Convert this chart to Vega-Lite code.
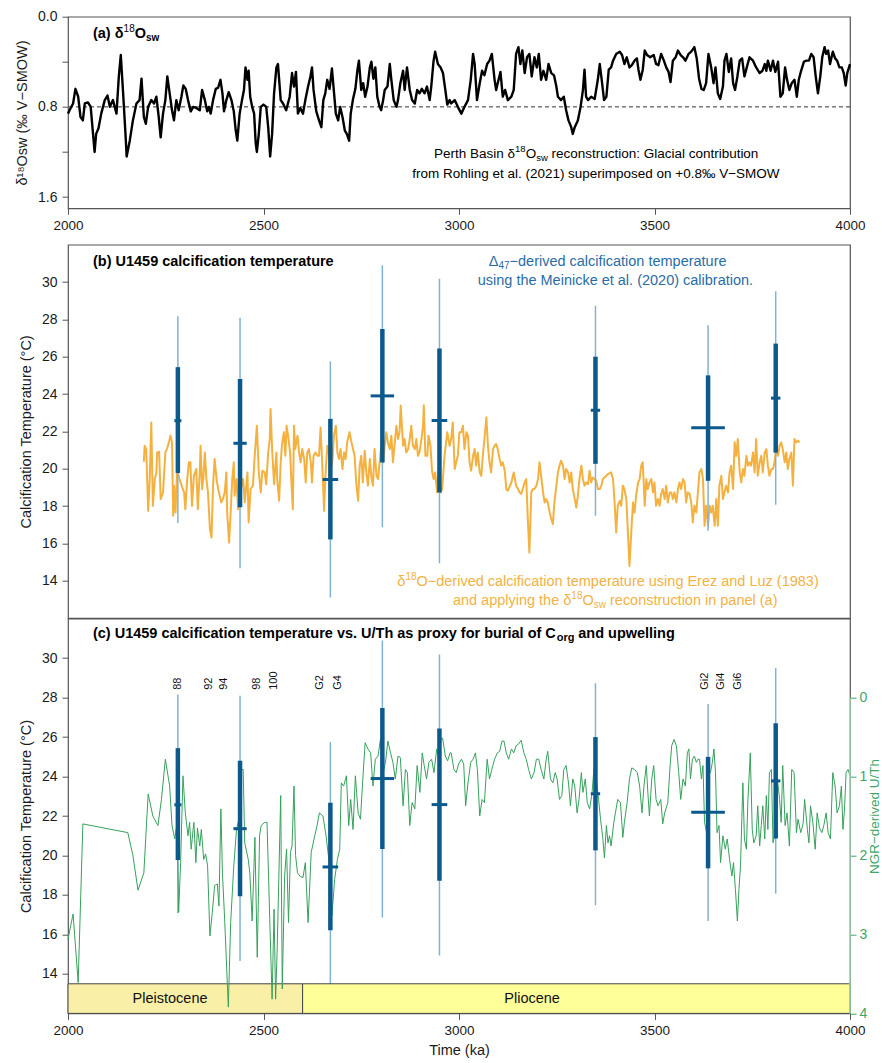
{
"$schema": "https://vega.github.io/schema/vega-lite/v6.json",
"padding": {"left": 13, "top": 8.7, "right": 2, "bottom": 2},
"background": "white",
"config": {
  "font": "Liberation Sans",
  "view": {"stroke": "#555555", "strokeWidth": 1.2},
  "axis": {"grid": false, "domain": false, "tickColor": "#555555", "tickSize": 6, "tickWidth": 1, "labelColor": "#1a1a1a", "labelFont": "Liberation Sans", "labelFontSize": 14, "labelPadding": 5, "labelFlush": false, "labelOverlap": false, "titleFont": "Liberation Sans", "titleFontSize": 14.5, "titleFontWeight": "normal", "titleColor": "#1a1a1a", "titlePadding": 8},
  "axisX": {"labelFontSize": 13.5, "labelPadding": 4, "titlePadding": 7},
  "text": {"font": "Liberation Sans"}
},
"spacing": 0,
"bounds": "flush",
"vconcat": [
{
  "width": 782, "height": 191.6,
  "layer": [
    {"data": {"values": [{}]}, "mark": {"type": "rule", "color": "#333333", "strokeDash": [4, 3], "strokeWidth": 1},
     "encoding": {"y": {"datum": 0.8, "type": "quantitative", "scale": {"domain": [0, 1.7], "reverse": true, "nice": false, "zero": false}}}},
    {"data": {"name": "osw"}, "mark": {"type": "line", "color": "#000000", "strokeWidth": 2.4, "strokeJoin": "round"},
     "encoding": {
       "x": {"field": "age", "type": "quantitative", "scale": {"domain": [2000, 4000], "nice": false, "zero": false}, "axis": {"values": [2000, 2500, 3000, 3500, 4000], "format": "d", "title": null}},
       "y": {"field": "v", "type": "quantitative", "scale": {"domain": [0, 1.7], "reverse": true, "nice": false, "zero": false}, "axis": {"values": [0, 0.4, 0.8, 1.2, 1.6], "labelExpr": "(datum.value == 0.4 || datum.value == 1.2) ? '' : format(datum.value, '.1f')", "title": "δ¹⁸Osw (‰ V−SMOW)"}}}},
    {"data": {"values": [{}]}, "mark": {"type": "text", "text": "(a) δ", "align": "left", "baseline": "middle", "fontSize": 14.5, "fontWeight": "bold", "color": "#000000"},
     "encoding": {"x": {"datum": 2063.9, "type": "quantitative", "scale": {"domain": [2000, 4000], "nice": false, "zero": false}}, "y": {"datum": 0.156, "type": "quantitative", "scale": {"domain": [0, 1.7], "reverse": true, "nice": false, "zero": false}}}},
    {"data": {"values": [{}]}, "mark": {"type": "text", "text": "18", "align": "left", "baseline": "middle", "fontSize": 10, "dy": -5, "color": "#000000"},
     "encoding": {"x": {"datum": 2142.2, "type": "quantitative", "scale": {"domain": [2000, 4000], "nice": false, "zero": false}}, "y": {"datum": 0.156, "type": "quantitative", "scale": {"domain": [0, 1.7], "reverse": true, "nice": false, "zero": false}}}},
    {"data": {"values": [{}]}, "mark": {"type": "text", "text": "O", "align": "left", "baseline": "middle", "fontSize": 14.5, "fontWeight": "bold", "color": "#000000"},
     "encoding": {"x": {"datum": 2170.6, "type": "quantitative", "scale": {"domain": [2000, 4000], "nice": false, "zero": false}}, "y": {"datum": 0.156, "type": "quantitative", "scale": {"domain": [0, 1.7], "reverse": true, "nice": false, "zero": false}}}},
    {"data": {"values": [{}]}, "mark": {"type": "text", "text": "sw", "align": "left", "baseline": "middle", "fontSize": 10, "fontWeight": "bold", "dy": 4, "color": "#000000"},
     "encoding": {"x": {"datum": 2199.5, "type": "quantitative", "scale": {"domain": [2000, 4000], "nice": false, "zero": false}}, "y": {"datum": 0.156, "type": "quantitative", "scale": {"domain": [0, 1.7], "reverse": true, "nice": false, "zero": false}}}},
    {"data": {"values": [{}]}, "mark": {"type": "text", "text": "Perth Basin δ", "align": "left", "baseline": "middle", "fontSize": 13.5, "color": "#000000"},
     "encoding": {"x": {"datum": 2936.2, "type": "quantitative", "scale": {"domain": [2000, 4000], "nice": false, "zero": false}}, "y": {"datum": 1.216, "type": "quantitative", "scale": {"domain": [0, 1.7], "reverse": true, "nice": false, "zero": false}}}},
    {"data": {"values": [{}]}, "mark": {"type": "text", "text": "18", "align": "left", "baseline": "middle", "fontSize": 9.5, "dy": -5, "color": "#000000"},
     "encoding": {"x": {"datum": 3143.3, "type": "quantitative", "scale": {"domain": [2000, 4000], "nice": false, "zero": false}}, "y": {"datum": 1.216, "type": "quantitative", "scale": {"domain": [0, 1.7], "reverse": true, "nice": false, "zero": false}}}},
    {"data": {"values": [{}]}, "mark": {"type": "text", "text": "O", "align": "left", "baseline": "middle", "fontSize": 13.5, "color": "#000000"},
     "encoding": {"x": {"datum": 3170.4, "type": "quantitative", "scale": {"domain": [2000, 4000], "nice": false, "zero": false}}, "y": {"datum": 1.216, "type": "quantitative", "scale": {"domain": [0, 1.7], "reverse": true, "nice": false, "zero": false}}}},
    {"data": {"values": [{}]}, "mark": {"type": "text", "text": "sw", "align": "left", "baseline": "middle", "fontSize": 9.5, "dy": 4, "color": "#000000"},
     "encoding": {"x": {"datum": 3197.3, "type": "quantitative", "scale": {"domain": [2000, 4000], "nice": false, "zero": false}}, "y": {"datum": 1.216, "type": "quantitative", "scale": {"domain": [0, 1.7], "reverse": true, "nice": false, "zero": false}}}},
    {"data": {"values": [{}]}, "mark": {"type": "text", "text": "reconstruction: Glacial contribution", "align": "left", "baseline": "middle", "fontSize": 13.5, "color": "#000000"},
     "encoding": {"x": {"datum": 3236.6, "type": "quantitative", "scale": {"domain": [2000, 4000], "nice": false, "zero": false}}, "y": {"datum": 1.216, "type": "quantitative", "scale": {"domain": [0, 1.7], "reverse": true, "nice": false, "zero": false}}}},
    {"data": {"values": [{}]}, "mark": {"type": "text", "text": "from Rohling et al. (2021) superimposed on +0.8‰ V−SMOW", "align": "center", "baseline": "middle", "fontSize": 13.5, "color": "#000000"},
     "encoding": {"x": {"datum": 3350, "type": "quantitative", "scale": {"domain": [2000, 4000], "nice": false, "zero": false}}, "y": {"datum": 1.394, "type": "quantitative", "scale": {"domain": [0, 1.7], "reverse": true, "nice": false, "zero": false}}}}
  ]
},
{
  "width": 782, "height": 35.4, "view": {"stroke": null},
  "data": {"values": []}, "mark": "point"
},
{
  "width": 782, "height": 373.3,
  "layer": [
    {"data": {"name": "t18"}, "mark": {"type": "line", "color": "#f4b13f", "strokeWidth": 2, "strokeJoin": "round"},
     "encoding": {
       "x": {"field": "age", "type": "quantitative", "scale": {"domain": [2000, 4000], "nice": false, "zero": false}, "axis": null},
       "y": {"field": "t", "type": "quantitative", "scale": {"domain": [12, 32], "nice": false, "zero": false}, "axis": {"values": [14, 16, 18, 20, 22, 24, 26, 28, 30], "title": "Calcification Temperature (°C)"}}}},
    {"data": {"name": "d47"}, "mark": {"type": "rule", "color": "#80b2d6", "strokeWidth": 1.5},
     "encoding": {"x": {"field": "age", "type": "quantitative", "scale": {"domain": [2000, 4000], "nice": false, "zero": false}, "axis": null},
       "y": {"field": "lo95", "type": "quantitative", "scale": {"domain": [12, 32], "nice": false, "zero": false}}, "y2": {"field": "hi95"}}},
    {"data": {"name": "d47"}, "mark": {"type": "rule", "color": "#0c5a8c", "strokeWidth": 4.5},
     "encoding": {"x": {"field": "age", "type": "quantitative", "scale": {"domain": [2000, 4000], "nice": false, "zero": false}, "axis": null},
       "y": {"field": "lo68", "type": "quantitative", "scale": {"domain": [12, 32], "nice": false, "zero": false}}, "y2": {"field": "hi68"}}},
    {"data": {"name": "d47"}, "mark": {"type": "rule", "color": "#0c5a8c", "strokeWidth": 3},
     "encoding": {"x": {"field": "agelo", "type": "quantitative", "scale": {"domain": [2000, 4000], "nice": false, "zero": false}, "axis": null}, "x2": {"field": "agehi"},
       "y": {"field": "t", "type": "quantitative", "scale": {"domain": [12, 32], "nice": false, "zero": false}}}},
    {"data": {"values": [{}]}, "mark": {"type": "text", "text": "(b) U1459 calcification temperature", "align": "left", "baseline": "middle", "fontSize": 14.5, "fontWeight": "bold", "color": "#000000"},
     "encoding": {"x": {"datum": 2063.9, "type": "quantitative", "scale": {"domain": [2000, 4000], "nice": false, "zero": false}, "axis": null}, "y": {"datum": 31.06, "type": "quantitative", "scale": {"domain": [12, 32], "nice": false, "zero": false}}}},
    {"data": {"values": [{}]}, "mark": {"type": "text", "text": "Δ", "align": "left", "baseline": "middle", "fontSize": 14.5, "color": "#2a6da6"},
     "encoding": {"x": {"datum": 3076.1, "type": "quantitative", "scale": {"domain": [2000, 4000], "nice": false, "zero": false}, "axis": null}, "y": {"datum": 31.06, "type": "quantitative", "scale": {"domain": [12, 32], "nice": false, "zero": false}}}},
    {"data": {"values": [{}]}, "mark": {"type": "text", "text": "47", "align": "left", "baseline": "middle", "fontSize": 10, "dy": 4, "color": "#2a6da6"},
     "encoding": {"x": {"datum": 3100.9, "type": "quantitative", "scale": {"domain": [2000, 4000], "nice": false, "zero": false}, "axis": null}, "y": {"datum": 31.06, "type": "quantitative", "scale": {"domain": [12, 32], "nice": false, "zero": false}}}},
    {"data": {"values": [{}]}, "mark": {"type": "text", "text": "−derived calcification temperature", "align": "left", "baseline": "middle", "fontSize": 14.5, "color": "#2a6da6"},
     "encoding": {"x": {"datum": 3129.3, "type": "quantitative", "scale": {"domain": [2000, 4000], "nice": false, "zero": false}, "axis": null}, "y": {"datum": 31.06, "type": "quantitative", "scale": {"domain": [12, 32], "nice": false, "zero": false}}}},
    {"data": {"values": [{}]}, "mark": {"type": "text", "text": "using the Meinicke et al. (2020) calibration.", "align": "center", "baseline": "middle", "fontSize": 14.5, "color": "#2a6da6"},
     "encoding": {"x": {"datum": 3400, "type": "quantitative", "scale": {"domain": [2000, 4000], "nice": false, "zero": false}, "axis": null}, "y": {"datum": 30.08, "type": "quantitative", "scale": {"domain": [12, 32], "nice": false, "zero": false}}}},
    {"data": {"values": [{}]}, "mark": {"type": "text", "text": "δ", "align": "left", "baseline": "middle", "fontSize": 14.5, "color": "#f2b244"},
     "encoding": {"x": {"datum": 2842.3, "type": "quantitative", "scale": {"domain": [2000, 4000], "nice": false, "zero": false}, "axis": null}, "y": {"datum": 13.94, "type": "quantitative", "scale": {"domain": [12, 32], "nice": false, "zero": false}}}},
    {"data": {"values": [{}]}, "mark": {"type": "text", "text": "18", "align": "left", "baseline": "middle", "fontSize": 10, "dy": -5, "color": "#f2b244"},
     "encoding": {"x": {"datum": 2863.0, "type": "quantitative", "scale": {"domain": [2000, 4000], "nice": false, "zero": false}, "axis": null}, "y": {"datum": 13.94, "type": "quantitative", "scale": {"domain": [12, 32], "nice": false, "zero": false}}}},
    {"data": {"values": [{}]}, "mark": {"type": "text", "text": "O−derived calcification temperature using Erez and Luz (1983)", "align": "left", "baseline": "middle", "fontSize": 14.5, "color": "#f2b244"},
     "encoding": {"x": {"datum": 2891.4, "type": "quantitative", "scale": {"domain": [2000, 4000], "nice": false, "zero": false}, "axis": null}, "y": {"datum": 13.94, "type": "quantitative", "scale": {"domain": [12, 32], "nice": false, "zero": false}}}},
    {"data": {"values": [{}]}, "mark": {"type": "text", "text": "and applying the δ", "align": "left", "baseline": "middle", "fontSize": 14.5, "color": "#f2b244"},
     "encoding": {"x": {"datum": 2984.4, "type": "quantitative", "scale": {"domain": [2000, 4000], "nice": false, "zero": false}, "axis": null}, "y": {"datum": 12.92, "type": "quantitative", "scale": {"domain": [12, 32], "nice": false, "zero": false}}}},
    {"data": {"values": [{}]}, "mark": {"type": "text", "text": "18", "align": "left", "baseline": "middle", "fontSize": 10, "dy": -5, "color": "#f2b244"},
     "encoding": {"x": {"datum": 3287.4, "type": "quantitative", "scale": {"domain": [2000, 4000], "nice": false, "zero": false}, "axis": null}, "y": {"datum": 12.92, "type": "quantitative", "scale": {"domain": [12, 32], "nice": false, "zero": false}}}},
    {"data": {"values": [{}]}, "mark": {"type": "text", "text": "O", "align": "left", "baseline": "middle", "fontSize": 14.5, "color": "#f2b244"},
     "encoding": {"x": {"datum": 3315.8, "type": "quantitative", "scale": {"domain": [2000, 4000], "nice": false, "zero": false}, "axis": null}, "y": {"datum": 12.92, "type": "quantitative", "scale": {"domain": [12, 32], "nice": false, "zero": false}}}},
    {"data": {"values": [{}]}, "mark": {"type": "text", "text": "sw", "align": "left", "baseline": "middle", "fontSize": 10, "dy": 4, "color": "#f2b244"},
     "encoding": {"x": {"datum": 3344.7, "type": "quantitative", "scale": {"domain": [2000, 4000], "nice": false, "zero": false}, "axis": null}, "y": {"datum": 12.92, "type": "quantitative", "scale": {"domain": [12, 32], "nice": false, "zero": false}}}},
    {"data": {"values": [{}]}, "mark": {"type": "text", "text": "reconstruction in panel (a)", "align": "left", "baseline": "middle", "fontSize": 14.5, "color": "#f2b244"},
     "encoding": {"x": {"datum": 3386.2, "type": "quantitative", "scale": {"domain": [2000, 4000], "nice": false, "zero": false}, "axis": null}, "y": {"datum": 12.92, "type": "quantitative", "scale": {"domain": [12, 32], "nice": false, "zero": false}}}}
  ]
},
{
  "width": 782, "height": 394.7,
  "layer": [
    {"data": {"name": "d47"}, "mark": {"type": "rule", "color": "#80b2d6", "strokeWidth": 1.5},
     "encoding": {
       "x": {"field": "age", "type": "quantitative", "scale": {"domain": [2000, 4000], "nice": false, "zero": false}, "axis": {"values": [2000, 2500, 3000, 3500, 4000], "format": "d", "title": "Time (ka)"}},
       "y": {"field": "lo95", "type": "quantitative", "scale": {"domain": [12, 32], "nice": false, "zero": false}, "axis": {"values": [14, 16, 18, 20, 22, 24, 26, 28, 30], "title": "Calcification Temperature (°C)", "orient": "left"}},
       "y2": {"field": "hi95"}}},
    {"layer": [
      {"data": {"name": "epochs"}, "mark": {"type": "rect", "stroke": "#444444", "strokeWidth": 1},
       "encoding": {
         "x": {"field": "start", "type": "quantitative", "scale": {"domain": [2000, 4000], "nice": false, "zero": false}}, "x2": {"field": "end"},
         "y": {"datum": 12, "type": "quantitative", "scale": {"domain": [12, 32], "nice": false, "zero": false}, "axis": null}, "y2": {"datum": 13.5},
         "fill": {"field": "epoch", "type": "nominal", "scale": {"domain": ["Pleistocene", "Pliocene"], "range": ["#f9efa6", "#ffff99"]}, "legend": null}}},
      {"data": {"name": "epochs"}, "mark": {"type": "text", "fontSize": 14.5, "color": "#111111", "baseline": "middle"},
       "encoding": {
         "x": {"field": "label_age", "type": "quantitative", "scale": {"domain": [2000, 4000], "nice": false, "zero": false}},
         "y": {"datum": 12.75, "type": "quantitative", "scale": {"domain": [12, 32], "nice": false, "zero": false}, "axis": null},
         "text": {"field": "epoch"}}}
    ]},
    {"layer": [
      {"data": {"name": "uth"}, "mark": {"type": "line", "color": "#35a15b", "strokeWidth": 1},
       "encoding": {
         "x": {"field": "age", "type": "quantitative", "scale": {"domain": [2000, 4000], "nice": false, "zero": false}},
         "y": {"field": "u", "type": "quantitative", "scale": {"domain": [-1, 4], "reverse": true, "nice": false, "zero": false},
               "axis": {"orient": "right", "values": [0, 1, 2, 3, 4], "format": "d", "title": "NGR−derived U/Th", "titleFontSize": 13.5, "titleAngle": 270, "titleBaseline": "top", "titlePadding": 1, "labelPadding": 3, "labelColor": "#3ca667", "tickColor": "#3ca667", "titleColor": "#3ca667"}}}},
      {"data": {"values": [{}]}, "mark": {"type": "rule", "color": "#a3dab3", "strokeWidth": 1.5},
       "encoding": {
         "x": {"datum": 4000, "type": "quantitative", "scale": {"domain": [2000, 4000], "nice": false, "zero": false}},
         "y": {"datum": 0, "type": "quantitative", "scale": {"domain": [-1, 4], "reverse": true, "nice": false, "zero": false}},
         "y2": {"datum": 4}}}
    ]},
    {"layer": [
      {"data": {"name": "d47"}, "mark": {"type": "rule", "color": "#0c5a8c", "strokeWidth": 4.5},
       "encoding": {"x": {"field": "age", "type": "quantitative", "scale": {"domain": [2000, 4000], "nice": false, "zero": false}},
         "y": {"field": "lo68", "type": "quantitative", "scale": {"domain": [12, 32], "nice": false, "zero": false}, "axis": null}, "y2": {"field": "hi68"}}},
      {"data": {"name": "d47"}, "mark": {"type": "rule", "color": "#0c5a8c", "strokeWidth": 3},
       "encoding": {"x": {"field": "agelo", "type": "quantitative", "scale": {"domain": [2000, 4000], "nice": false, "zero": false}}, "x2": {"field": "agehi"},
         "y": {"field": "t", "type": "quantitative", "scale": {"domain": [12, 32], "nice": false, "zero": false}, "axis": null}}},
      {"data": {"name": "events"}, "mark": {"type": "text", "angle": 270, "align": "left", "baseline": "middle", "fontSize": 11, "color": "#111111"},
       "encoding": {"x": {"field": "age", "type": "quantitative", "scale": {"domain": [2000, 4000], "nice": false, "zero": false}},
         "y": {"datum": 28.4, "type": "quantitative", "scale": {"domain": [12, 32], "nice": false, "zero": false}, "axis": null},
         "text": {"field": "label"}}},
      {"data": {"values": [{}]}, "mark": {"type": "text", "text": "(c) U1459 calcification temperature vs. U/Th as proxy for burial of C", "align": "left", "baseline": "middle", "fontSize": 14.5, "fontWeight": "bold", "color": "#000000"},
       "encoding": {"x": {"datum": 2063.9, "type": "quantitative", "scale": {"domain": [2000, 4000], "nice": false, "zero": false}}, "y": {"datum": 31.22, "type": "quantitative", "scale": {"domain": [12, 32], "nice": false, "zero": false}, "axis": null}}},
      {"data": {"values": [{}]}, "mark": {"type": "text", "text": "org", "align": "left", "baseline": "middle", "fontSize": 11, "fontWeight": "bold", "dy": 4, "color": "#000000"},
       "encoding": {"x": {"datum": 3250.1, "type": "quantitative", "scale": {"domain": [2000, 4000], "nice": false, "zero": false}}, "y": {"datum": 31.22, "type": "quantitative", "scale": {"domain": [12, 32], "nice": false, "zero": false}, "axis": null}}},
      {"data": {"values": [{}]}, "mark": {"type": "text", "text": "and upwelling", "align": "left", "baseline": "middle", "fontSize": 14.5, "fontWeight": "bold", "color": "#000000"},
       "encoding": {"x": {"datum": 3305.0, "type": "quantitative", "scale": {"domain": [2000, 4000], "nice": false, "zero": false}}, "y": {"datum": 31.22, "type": "quantitative", "scale": {"domain": [12, 32], "nice": false, "zero": false}, "axis": null}}}
    ]}
  ],
  "resolve": {"scale": {"y": "independent"}, "axis": {"y": "independent"}}
}
],
"datasets": {
"d47": [
  {"age": 2281, "t": 22.57, "lo68": 19.77, "hi68": 25.44, "lo95": 17.09, "hi95": 28.16, "agelo": 2272, "agehi": 2290},
  {"age": 2440, "t": 21.36, "lo68": 17.93, "hi68": 24.80, "lo95": 14.66, "hi95": 28.09, "agelo": 2423, "agehi": 2457},
  {"age": 2671, "t": 19.42, "lo68": 16.21, "hi68": 22.67, "lo95": 13.10, "hi95": 25.75, "agelo": 2651, "agehi": 2691},
  {"age": 2804, "t": 23.90, "lo68": 20.33, "hi68": 27.48, "lo95": 16.86, "hi95": 30.90, "agelo": 2774, "agehi": 2834},
  {"age": 2950, "t": 22.58, "lo68": 18.72, "hi68": 26.44, "lo95": 14.93, "hi95": 30.18, "agelo": 2930, "agehi": 2970},
  {"age": 3349, "t": 23.13, "lo68": 20.26, "hi68": 26.00, "lo95": 17.48, "hi95": 28.73, "agelo": 3337, "agehi": 3361},
  {"age": 3637, "t": 22.19, "lo68": 19.35, "hi68": 25.00, "lo95": 16.68, "hi95": 27.68, "agelo": 3594, "agehi": 3680},
  {"age": 3810, "t": 23.78, "lo68": 20.86, "hi68": 26.70, "lo95": 18.07, "hi95": 29.50, "agelo": 3798, "agehi": 3822}
],
"events": [
  {"age": 2281, "label": "88"}, {"age": 2360, "label": "92"}, {"age": 2398, "label": "94"}, {"age": 2484, "label": "98"}, {"age": 2526, "label": "100"},
  {"age": 2645, "label": "G2"}, {"age": 2690, "label": "G4"}, {"age": 3630, "label": "Gi2"}, {"age": 3669, "label": "Gi4"}, {"age": 3713, "label": "Gi6"}
],
"epochs": [
  {"epoch": "Pleistocene", "start": 2000, "end": 2600, "label_age": 2261},
  {"epoch": "Pliocene", "start": 2600, "end": 4000, "label_age": 3187}
],
"osw": [
{"age":2000,"v":0.86},{"age":2004,"v":0.83},{"age":2013,"v":0.77},{"age":2019,"v":0.64},{"age":2026,"v":0.71},{"age":2032,"v":0.89},{"age":2038,"v":0.92},{"age":2043,"v":0.77},{"age":2051,"v":0.76},{"age":2058,"v":0.80},{"age":2064,"v":1.04},{"age":2068,"v":1.20},{"age":2072,"v":1.04},{"age":2078,"v":0.99},{"age":2085,"v":0.86},{"age":2094,"v":0.74},{"age":2101,"v":0.70},{"age":2107,"v":0.80},{"age":2115,"v":0.74},{"age":2124,"v":0.86},{"age":2130,"v":0.53},{"age":2135,"v":0.34},{"age":2141,"v":0.68},{"age":2147,"v":1.04},{"age":2150,"v":1.24},{"age":2158,"v":1.10},{"age":2166,"v":0.92},{"age":2175,"v":0.77},{"age":2183,"v":0.74},{"age":2188,"v":0.55},{"age":2194,"v":0.89},{"age":2199,"v":0.95},{"age":2205,"v":0.80},{"age":2213,"v":0.74},{"age":2220,"v":0.77},{"age":2226,"v":0.71},{"age":2232,"v":0.89},{"age":2237,"v":1.07},{"age":2243,"v":0.86},{"age":2249,"v":0.74},{"age":2254,"v":0.53},{"age":2260,"v":0.68},{"age":2266,"v":0.83},{"age":2271,"v":0.92},{"age":2277,"v":0.74},{"age":2283,"v":0.83},{"age":2290,"v":0.71},{"age":2295,"v":0.61},{"age":2301,"v":0.64},{"age":2307,"v":0.74},{"age":2314,"v":0.84},{"age":2320,"v":0.80},{"age":2328,"v":0.81},{"age":2337,"v":0.83},{"age":2343,"v":0.65},{"age":2350,"v":0.74},{"age":2356,"v":0.84},{"age":2360,"v":0.80},{"age":2365,"v":0.86},{"age":2371,"v":0.74},{"age":2378,"v":0.64},{"age":2384,"v":0.63},{"age":2390,"v":0.56},{"age":2395,"v":0.68},{"age":2399,"v":0.84},{"age":2405,"v":0.74},{"age":2411,"v":0.67},{"age":2418,"v":0.74},{"age":2424,"v":0.84},{"age":2429,"v":1.01},{"age":2433,"v":1.10},{"age":2439,"v":0.86},{"age":2445,"v":0.74},{"age":2450,"v":0.65},{"age":2454,"v":0.45},{"age":2459,"v":0.56},{"age":2462,"v":0.48},{"age":2466,"v":0.71},{"age":2471,"v":0.80},{"age":2476,"v":0.86},{"age":2480,"v":1.12},{"age":2483,"v":1.20},{"age":2488,"v":1.04},{"age":2493,"v":0.80},{"age":2500,"v":0.78},{"age":2507,"v":0.80},{"age":2512,"v":0.98},{"age":2517,"v":1.24},{"age":2522,"v":1.04},{"age":2527,"v":0.68},{"age":2533,"v":0.45},{"age":2537,"v":0.42},{"age":2544,"v":0.74},{"age":2550,"v":0.77},{"age":2558,"v":0.83},{"age":2567,"v":0.71},{"age":2573,"v":0.50},{"age":2578,"v":0.62},{"age":2583,"v":0.49},{"age":2588,"v":0.86},{"age":2594,"v":0.81},{"age":2601,"v":0.86},{"age":2607,"v":0.74},{"age":2614,"v":0.62},{"age":2620,"v":0.53},{"age":2624,"v":0.45},{"age":2628,"v":0.65},{"age":2635,"v":0.84},{"age":2642,"v":0.92},{"age":2648,"v":0.98},{"age":2653,"v":0.74},{"age":2658,"v":0.68},{"age":2663,"v":0.56},{"age":2669,"v":0.64},{"age":2675,"v":0.46},{"age":2679,"v":0.62},{"age":2685,"v":0.86},{"age":2691,"v":0.92},{"age":2696,"v":0.80},{"age":2702,"v":0.89},{"age":2708,"v":1.01},{"age":2713,"v":1.04},{"age":2719,"v":1.10},{"age":2723,"v":0.86},{"age":2729,"v":0.73},{"age":2735,"v":0.64},{"age":2740,"v":0.48},{"age":2744,"v":0.39},{"age":2750,"v":0.65},{"age":2755,"v":0.59},{"age":2760,"v":0.71},{"age":2766,"v":0.62},{"age":2772,"v":0.45},{"age":2776,"v":0.40},{"age":2781,"v":0.55},{"age":2786,"v":0.45},{"age":2791,"v":0.71},{"age":2797,"v":0.80},{"age":2801,"v":0.83},{"age":2806,"v":0.74},{"age":2810,"v":0.65},{"age":2817,"v":0.62},{"age":2823,"v":0.42},{"age":2827,"v":0.56},{"age":2833,"v":0.74},{"age":2840,"v":0.80},{"age":2844,"v":0.74},{"age":2850,"v":0.59},{"age":2857,"v":0.48},{"age":2861,"v":0.65},{"age":2867,"v":0.45},{"age":2874,"v":0.65},{"age":2880,"v":0.74},{"age":2887,"v":0.77},{"age":2893,"v":0.65},{"age":2899,"v":0.68},{"age":2905,"v":0.64},{"age":2912,"v":0.68},{"age":2918,"v":0.62},{"age":2925,"v":0.74},{"age":2929,"v":0.62},{"age":2935,"v":0.39},{"age":2939,"v":0.31},{"age":2946,"v":0.42},{"age":2953,"v":0.45},{"age":2959,"v":0.50},{"age":2965,"v":0.65},{"age":2970,"v":0.78},{"age":2976,"v":0.74},
{"age":2980,"v":0.77},{"age":2989,"v":0.74},{"age":2997,"v":0.80},{"age":3006,"v":0.86},{"age":3014,"v":0.80},{"age":3023,"v":0.74},{"age":3030,"v":0.56},{"age":3036,"v":0.33},{"age":3040,"v":0.42},{"age":3046,"v":0.74},{"age":3053,"v":0.59},{"age":3059,"v":0.48},{"age":3065,"v":0.52},{"age":3072,"v":0.42},{"age":3078,"v":0.39},{"age":3084,"v":0.33},{"age":3091,"v":0.56},{"age":3095,"v":0.65},{"age":3099,"v":0.59},{"age":3106,"v":0.49},{"age":3112,"v":0.71},{"age":3118,"v":0.65},{"age":3125,"v":0.74},{"age":3134,"v":0.71},{"age":3140,"v":0.65},{"age":3146,"v":0.33},{"age":3152,"v":0.27},{"age":3157,"v":0.42},{"age":3162,"v":0.30},{"age":3168,"v":0.50},{"age":3174,"v":0.36},{"age":3180,"v":0.33},{"age":3186,"v":0.53},{"age":3193,"v":0.36},{"age":3199,"v":0.45},{"age":3204,"v":0.33},{"age":3210,"v":0.56},{"age":3216,"v":0.48},{"age":3223,"v":0.56},{"age":3229,"v":0.42},{"age":3236,"v":0.50},{"age":3243,"v":0.52},{"age":3249,"v":0.62},{"age":3253,"v":0.71},{"age":3261,"v":0.74},{"age":3268,"v":0.71},{"age":3274,"v":0.83},{"age":3280,"v":0.92},{"age":3287,"v":0.98},{"age":3291,"v":1.04},{"age":3296,"v":0.98},{"age":3304,"v":0.92},{"age":3311,"v":0.80},{"age":3317,"v":0.65},{"age":3321,"v":0.47},{"age":3325,"v":0.71},{"age":3330,"v":0.74},{"age":3338,"v":0.71},{"age":3347,"v":0.73},{"age":3355,"v":0.56},{"age":3360,"v":0.42},{"age":3365,"v":0.56},{"age":3371,"v":0.74},{"age":3377,"v":0.71},{"age":3383,"v":0.47},{"age":3389,"v":0.45},{"age":3394,"v":0.39},{"age":3402,"v":0.33},{"age":3411,"v":0.31},{"age":3417,"v":0.34},{"age":3423,"v":0.42},{"age":3429,"v":0.36},{"age":3436,"v":0.45},{"age":3442,"v":0.43},{"age":3449,"v":0.39},{"age":3455,"v":0.37},{"age":3459,"v":0.47},{"age":3464,"v":0.56},{"age":3470,"v":0.47},{"age":3475,"v":0.30},{"age":3481,"v":0.34},{"age":3489,"v":0.36},{"age":3498,"v":0.34},{"age":3504,"v":0.42},{"age":3510,"v":0.43},{"age":3517,"v":0.33},{"age":3524,"v":0.39},{"age":3530,"v":0.45},{"age":3536,"v":0.49},{"age":3541,"v":0.58},{"age":3547,"v":0.39},{"age":3554,"v":0.36},{"age":3560,"v":0.30},{"age":3567,"v":0.34},{"age":3573,"v":0.36},{"age":3579,"v":0.39},{"age":3587,"v":0.33},{"age":3594,"v":0.31},{"age":3602,"v":0.27},{"age":3608,"v":0.37},{"age":3614,"v":0.55},{"age":3620,"v":0.64},{"age":3626,"v":0.65},{"age":3632,"v":0.59},{"age":3638,"v":0.33},{"age":3645,"v":0.45},{"age":3651,"v":0.59},{"age":3656,"v":0.45},{"age":3662,"v":0.68},{"age":3668,"v":0.73},{"age":3675,"v":0.62},{"age":3679,"v":0.39},{"age":3684,"v":0.33},{"age":3690,"v":0.49},{"age":3696,"v":0.37},{"age":3701,"v":0.59},{"age":3706,"v":0.65},{"age":3712,"v":0.53},{"age":3718,"v":0.39},{"age":3724,"v":0.37},{"age":3730,"v":0.53},{"age":3736,"v":0.45},{"age":3743,"v":0.36},{"age":3752,"v":0.39},{"age":3760,"v":0.45},{"age":3769,"v":0.50},{"age":3776,"v":0.48},{"age":3782,"v":0.42},{"age":3786,"v":0.48},{"age":3790,"v":0.39},{"age":3797,"v":0.48},{"age":3803,"v":0.39},{"age":3809,"v":0.49},{"age":3816,"v":0.40},{"age":3822,"v":0.71},{"age":3828,"v":0.68},{"age":3834,"v":0.45},{"age":3839,"v":0.56},{"age":3845,"v":0.65},{"age":3851,"v":0.59},{"age":3858,"v":0.56},{"age":3864,"v":0.71},{"age":3869,"v":0.56},{"age":3875,"v":0.48},{"age":3882,"v":0.40},{"age":3888,"v":0.39},{"age":3895,"v":0.39},{"age":3901,"v":0.33},{"age":3907,"v":0.36},{"age":3912,"v":0.52},{"age":3918,"v":0.68},{"age":3924,"v":0.53},{"age":3929,"v":0.36},{"age":3935,"v":0.27},{"age":3939,"v":0.33},{"age":3944,"v":0.30},{"age":3949,"v":0.42},{"age":3956,"v":0.31},{"age":3962,"v":0.37},{"age":3967,"v":0.39},{"age":3973,"v":0.45},{"age":3979,"v":0.45},{"age":3984,"v":0.50},{"age":3989,"v":0.61},{"age":3993,"v":0.50},{"age":4000,"v":0.42}
],
"t18": [
{"age":2194,"t":20.37},{"age":2196,"t":21.23},{"age":2200,"t":21.05},{"age":2205,"t":17.74},{"age":2209,"t":19.44},{"age":2213,"t":22.48},{"age":2217,"t":18.01},{"age":2222,"t":19.44},{"age":2226,"t":19.80},{"age":2228,"t":20.87},{"age":2233,"t":20.91},{"age":2237,"t":18.37},{"age":2243,"t":18.73},{"age":2249,"t":20.87},{"age":2253,"t":21.05},{"age":2258,"t":21.41},{"age":2262,"t":21.77},{"age":2266,"t":21.41},{"age":2269,"t":17.48},{"age":2271,"t":19.09},{"age":2275,"t":17.65},{"age":2279,"t":19.98},{"age":2284,"t":19.53},{"age":2288,"t":19.26},{"age":2292,"t":19.00},{"age":2297,"t":18.73},{"age":2300,"t":17.83},{"age":2305,"t":19.44},{"age":2309,"t":20.34},{"age":2313,"t":20.34},{"age":2317,"t":18.01},{"age":2322,"t":19.62},{"age":2328,"t":19.98},{"age":2332,"t":17.83},{"age":2337,"t":19.80},{"age":2339,"t":21.23},{"age":2343,"t":18.91},{"age":2346,"t":19.44},{"age":2350,"t":20.87},{"age":2354,"t":19.44},{"age":2358,"t":18.73},{"age":2363,"t":16.76},{"age":2367,"t":16.31},{"age":2371,"t":19.09},{"age":2375,"t":20.52},{"age":2380,"t":19.44},{"age":2384,"t":18.91},{"age":2388,"t":18.55},{"age":2392,"t":18.19},{"age":2396,"t":18.37},{"age":2401,"t":18.73},{"age":2405,"t":19.80},{"age":2407,"t":17.65},{"age":2412,"t":16.04},{"age":2416,"t":17.65},{"age":2420,"t":19.44},{"age":2424,"t":20.34},{"age":2426,"t":18.55},{"age":2431,"t":19.44},{"age":2435,"t":17.83},{"age":2442,"t":18.91},{"age":2448,"t":19.44},{"age":2452,"t":18.19},{"age":2459,"t":19.80},{"age":2462,"t":17.12},{"age":2467,"t":18.91},{"age":2473,"t":19.09},{"age":2477,"t":20.52},{"age":2483,"t":22.30},{"age":2488,"t":19.80},{"age":2493,"t":18.73},{"age":2497,"t":19.89},{"age":2503,"t":19.80},{"age":2507,"t":19.17},{"age":2512,"t":20.87},{"age":2516,"t":21.59},{"age":2518,"t":23.20},{"age":2522,"t":21.05},{"age":2527,"t":19.17},{"age":2533,"t":20.87},{"age":2535,"t":19.44},{"age":2540,"t":18.28},{"age":2544,"t":20.34},{"age":2547,"t":21.23},{"age":2552,"t":21.95},{"age":2556,"t":20.69},{"age":2559,"t":22.30},{"age":2564,"t":21.59},{"age":2568,"t":20.87},{"age":2571,"t":19.44},{"age":2575,"t":17.83},{"age":2578,"t":22.30},{"age":2581,"t":21.05},{"age":2587,"t":21.77},{"age":2591,"t":20.87},{"age":2595,"t":20.34},{"age":2599,"t":21.05},{"age":2604,"t":20.52},{"age":2608,"t":19.26},{"age":2612,"t":20.87},{"age":2616,"t":21.05},{"age":2621,"t":20.34},{"age":2624,"t":19.26},{"age":2628,"t":20.69},{"age":2633,"t":20.87},{"age":2638,"t":20.69},{"age":2642,"t":20.69},{"age":2646,"t":22.21},{"age":2650,"t":20.34},{"age":2655,"t":17.74},{"age":2658,"t":19.44},{"age":2663,"t":21.23},{"age":2668,"t":20.69},{"age":2672,"t":19.98},{"age":2676,"t":20.34},{"age":2680,"t":21.77},{"age":2685,"t":22.30},{"age":2689,"t":20.87},{"age":2693,"t":20.52},{"age":2697,"t":21.05},{"age":2702,"t":19.98},{"age":2706,"t":20.87},{"age":2710,"t":20.52},{"age":2714,"t":21.41},{"age":2720,"t":21.95},{"age":2725,"t":21.41},{"age":2729,"t":21.05},{"age":2733,"t":20.69},{"age":2737,"t":19.26},{"age":2742,"t":18.28},{"age":2746,"t":20.16},{"age":2750,"t":20.69},{"age":2754,"t":19.26},{"age":2759,"t":20.96},{"age":2763,"t":19.80},{"age":2767,"t":19.09},{"age":2772,"t":20.52},{"age":2776,"t":19.53},{"age":2780,"t":19.09},{"age":2784,"t":21.05},{"age":2789,"t":19.62},{"age":2793,"t":19.44},{"age":2797,"t":20.34},{"age":2801,"t":21.23},{"age":2806,"t":20.34},{"age":2810,"t":21.23},{"age":2814,"t":21.95},{"age":2818,"t":21.41},{"age":2823,"t":21.05},{"age":2827,"t":21.77},{"age":2831,"t":20.34},{"age":2835,"t":21.23},{"age":2840,"t":22.30},{"age":2844,"t":21.59},{"age":2848,"t":21.95},{"age":2851,"t":23.38},{"age":2857,"t":21.23},{"age":2861,"t":21.59},{"age":2865,"t":20.87},{"age":2870,"t":21.05},{"age":2874,"t":21.59},{"age":2878,"t":22.30},{"age":2882,"t":21.23},{"age":2887,"t":21.05},{"age":2891,"t":21.59},{"age":2895,"t":20.69},{"age":2899,"t":20.87},{"age":2904,"t":21.59},{"age":2908,"t":22.30},{"age":2910,"t":23.40},{"age":2914,"t":20.69},{"age":2919,"t":20.69},{"age":2922,"t":21.77},{"age":2927,"t":21.23},{"age":2931,"t":19.89},{"age":2935,"t":19.44},{"age":2939,"t":19.80},{"age":2944,"t":18.73},{"age":2948,"t":19.98},{"age":2953,"t":18.73},{"age":2957,"t":18.91},{"age":2963,"t":20.69},{"age":2970,"t":21.95},{"age":2976,"t":21.23},
{"age":2980,"t":21.59},{"age":2984,"t":22.48},{"age":2989,"t":19.98},{"age":2993,"t":20.34},{"age":2997,"t":20.69},{"age":3001,"t":21.95},{"age":3006,"t":21.95},{"age":3010,"t":22.30},{"age":3014,"t":21.05},{"age":3019,"t":21.95},{"age":3023,"t":21.77},{"age":3027,"t":20.34},{"age":3031,"t":19.89},{"age":3036,"t":20.69},{"age":3040,"t":21.05},{"age":3044,"t":20.16},{"age":3048,"t":20.87},{"age":3053,"t":19.80},{"age":3057,"t":19.62},{"age":3061,"t":20.69},{"age":3065,"t":21.59},{"age":3070,"t":22.75},{"age":3074,"t":21.23},{"age":3078,"t":20.34},{"age":3082,"t":19.80},{"age":3087,"t":21.05},{"age":3091,"t":21.23},{"age":3095,"t":21.32},{"age":3099,"t":21.05},{"age":3104,"t":20.52},{"age":3108,"t":20.16},{"age":3112,"t":20.34},{"age":3117,"t":19.89},{"age":3121,"t":18.91},{"age":3125,"t":18.82},{"age":3134,"t":19.26},{"age":3140,"t":19.80},{"age":3146,"t":19.09},{"age":3151,"t":18.91},{"age":3155,"t":18.73},{"age":3159,"t":18.64},{"age":3163,"t":18.91},{"age":3168,"t":19.26},{"age":3172,"t":19.44},{"age":3176,"t":17.30},{"age":3180,"t":15.51},{"age":3185,"t":18.73},{"age":3189,"t":18.91},{"age":3193,"t":18.91},{"age":3198,"t":19.09},{"age":3202,"t":19.44},{"age":3206,"t":20.34},{"age":3210,"t":19.62},{"age":3215,"t":18.73},{"age":3219,"t":18.19},{"age":3223,"t":18.37},{"age":3227,"t":18.19},{"age":3232,"t":17.65},{"age":3236,"t":17.30},{"age":3240,"t":17.03},{"age":3244,"t":18.19},{"age":3249,"t":19.09},{"age":3253,"t":19.80},{"age":3257,"t":20.16},{"age":3261,"t":20.43},{"age":3266,"t":20.16},{"age":3270,"t":19.44},{"age":3274,"t":19.98},{"age":3279,"t":19.80},{"age":3283,"t":19.26},{"age":3287,"t":19.80},{"age":3291,"t":18.91},{"age":3296,"t":18.37},{"age":3300,"t":17.92},{"age":3304,"t":18.55},{"age":3308,"t":19.44},{"age":3313,"t":20.16},{"age":3317,"t":19.44},{"age":3321,"t":19.09},{"age":3325,"t":19.26},{"age":3330,"t":19.17},{"age":3334,"t":19.89},{"age":3338,"t":19.26},{"age":3342,"t":19.53},{"age":3347,"t":19.44},{"age":3351,"t":19.35},{"age":3355,"t":18.91},{"age":3360,"t":18.91},{"age":3364,"t":19.09},{"age":3368,"t":19.44},{"age":3372,"t":19.53},{"age":3381,"t":19.71},{"age":3389,"t":19.80},{"age":3394,"t":19.44},{"age":3398,"t":18.19},{"age":3402,"t":16.58},{"age":3406,"t":18.01},{"age":3411,"t":18.28},{"age":3415,"t":18.01},{"age":3419,"t":19.09},{"age":3423,"t":18.91},{"age":3428,"t":18.37},{"age":3432,"t":16.58},{"age":3436,"t":14.79},{"age":3441,"t":16.76},{"age":3445,"t":18.19},{"age":3449,"t":17.65},{"age":3453,"t":18.55},{"age":3458,"t":19.26},{"age":3462,"t":19.44},{"age":3466,"t":20.16},{"age":3470,"t":20.34},{"age":3475,"t":18.01},{"age":3479,"t":19.44},{"age":3483,"t":18.91},{"age":3487,"t":19.26},{"age":3492,"t":19.44},{"age":3496,"t":18.73},{"age":3500,"t":19.26},{"age":3504,"t":18.01},{"age":3509,"t":18.37},{"age":3513,"t":18.01},{"age":3517,"t":18.64},{"age":3521,"t":18.91},{"age":3526,"t":18.37},{"age":3530,"t":19.09},{"age":3534,"t":18.19},{"age":3539,"t":18.73},{"age":3543,"t":18.73},{"age":3547,"t":18.37},{"age":3551,"t":18.73},{"age":3556,"t":18.19},{"age":3560,"t":18.91},{"age":3564,"t":19.26},{"age":3568,"t":18.91},{"age":3573,"t":19.44},{"age":3577,"t":19.26},{"age":3581,"t":18.19},{"age":3585,"t":18.73},{"age":3590,"t":18.64},{"age":3594,"t":18.19},{"age":3598,"t":17.12},{"age":3602,"t":18.01},{"age":3607,"t":17.65},{"age":3611,"t":18.73},{"age":3615,"t":19.80},{"age":3620,"t":19.98},{"age":3624,"t":19.44},{"age":3628,"t":16.94},{"age":3632,"t":18.01},{"age":3637,"t":16.94},{"age":3641,"t":18.01},{"age":3645,"t":17.65},{"age":3649,"t":18.01},{"age":3654,"t":16.94},{"age":3658,"t":18.37},{"age":3662,"t":16.94},{"age":3666,"t":19.09},{"age":3671,"t":19.62},{"age":3675,"t":18.37},{"age":3679,"t":18.73},{"age":3683,"t":19.09},{"age":3688,"t":18.73},{"age":3692,"t":19.80},{"age":3696,"t":20.16},{"age":3701,"t":18.91},{"age":3705,"t":21.41},{"age":3709,"t":20.69},{"age":3713,"t":21.59},{"age":3718,"t":19.80},{"age":3722,"t":19.26},{"age":3726,"t":19.98},{"age":3730,"t":19.62},{"age":3735,"t":20.69},{"age":3739,"t":20.16},{"age":3743,"t":20.34},{"age":3747,"t":20.16},{"age":3752,"t":20.87},{"age":3756,"t":19.80},{"age":3760,"t":21.59},{"age":3764,"t":19.62},{"age":3769,"t":20.34},{"age":3773,"t":20.69},{"age":3777,"t":19.80},{"age":3782,"t":20.87},{"age":3786,"t":21.05},{"age":3790,"t":20.16},{"age":3794,"t":19.62},{"age":3799,"t":19.98},{"age":3803,"t":19.98},{"age":3807,"t":20.34},{"age":3811,"t":21.05},{"age":3816,"t":20.69},{"age":3820,"t":21.23},{"age":3824,"t":21.41},{"age":3828,"t":21.05},{"age":3833,"t":20.34},{"age":3837,"t":20.87},{"age":3841,"t":19.98},{"age":3845,"t":20.52},{"age":3850,"t":20.87},{"age":3854,"t":19.09},{"age":3858,"t":21.59},{"age":3863,"t":21.41},{"age":3867,"t":21.50},{"age":3871,"t":21.41}
],
"uth": [
{"age":2000,"u":3.06},{"age":2013,"u":2.74},{"age":2026,"u":3.61},{"age":2038,"u":1.60},{"age":2153,"u":1.71},{"age":2166,"u":2.00},{"age":2179,"u":2.44},{"age":2194,"u":2.22},{"age":2205,"u":1.22},{"age":2217,"u":1.50},{"age":2230,"u":1.62},{"age":2239,"u":1.29},{"age":2249,"u":0.78},{"age":2260,"u":1.12},{"age":2266,"u":1.62},{"age":2273,"u":1.79},{"age":2279,"u":1.58},{"age":2283,"u":2.72},{"age":2288,"u":2.09},{"age":2294,"u":0.99},{"age":2300,"u":1.46},{"age":2307,"u":1.75},{"age":2311,"u":1.58},{"age":2315,"u":1.92},{"age":2320,"u":1.67},{"age":2322,"u":1.58},{"age":2327,"u":2.09},{"age":2331,"u":1.65},{"age":2337,"u":1.88},{"age":2341,"u":1.67},{"age":2347,"u":2.05},{"age":2352,"u":1.98},{"age":2357,"u":2.13},{"age":2363,"u":3.02},{"age":2369,"u":2.72},{"age":2375,"u":2.38},{"age":2382,"u":2.36},{"age":2386,"u":2.64},{"age":2391,"u":1.41},{"age":2395,"u":2.22},{"age":2401,"u":2.85},{"age":2410,"u":3.92},{"age":2416,"u":2.85},{"age":2424,"u":2.13},{"age":2431,"u":1.67},{"age":2437,"u":1.54},{"age":2442,"u":0.91},{"age":2448,"u":0.91},{"age":2452,"u":1.84},{"age":2461,"u":2.05},{"age":2465,"u":2.22},{"age":2471,"u":2.83},{"age":2478,"u":1.77},{"age":2484,"u":3.29},{"age":2490,"u":1.75},{"age":2494,"u":1.62},{"age":2503,"u":1.58},{"age":2509,"u":1.58},{"age":2516,"u":2.81},{"age":2522,"u":3.82},{"age":2527,"u":2.68},{"age":2531,"u":3.82},{"age":2535,"u":3.19},{"age":2544,"u":1.24},{"age":2548,"u":3.69},{"age":2554,"u":2.26},{"age":2559,"u":1.92},{"age":2564,"u":2.85},{"age":2569,"u":1.96},{"age":2573,"u":1.88},{"age":2578,"u":1.12},{"age":2582,"u":2.00},{"age":2587,"u":2.22},{"age":2593,"u":2.26},{"age":2601,"u":2.28},{"age":2607,"u":2.09},{"age":2614,"u":2.85},{"age":2622,"u":1.96},{"age":2631,"u":1.75},{"age":2637,"u":1.62},{"age":2643,"u":1.46},{"age":2652,"u":1.50},{"age":2660,"u":1.75},{"age":2669,"u":2.13},{"age":2675,"u":2.76},{"age":2682,"u":2.30},{"age":2689,"u":2.05},{"age":2695,"u":1.92},{"age":2699,"u":1.08},{"age":2705,"u":1.12},{"age":2712,"u":0.99},{"age":2718,"u":1.62},{"age":2723,"u":1.29},{"age":2729,"u":1.67},{"age":2735,"u":0.99},{"age":2742,"u":1.46},{"age":2748,"u":1.54},{"age":2754,"u":1.03},{"age":2760,"u":0.57},{"age":2767,"u":0.65},{"age":2774,"u":0.70},{"age":2780,"u":1.12},{"age":2786,"u":0.78},{"age":2793,"u":0.74},{"age":2799,"u":0.53},{"age":2806,"u":0.95},{"age":2812,"u":0.82},{"age":2818,"u":0.55},{"age":2825,"u":0.70},{"age":2831,"u":0.82},{"age":2837,"u":1.03},{"age":2844,"u":0.74},{"age":2850,"u":0.76},{"age":2857,"u":1.37},{"age":2863,"u":0.91},{"age":2868,"u":0.95},{"age":2874,"u":1.62},{"age":2880,"u":1.33},{"age":2887,"u":1.41},{"age":2893,"u":0.86},{"age":2900,"u":1.20},{"age":2906,"u":0.70},{"age":2911,"u":0.86},{"age":2917,"u":1.03},{"age":2923,"u":0.82},{"age":2930,"u":0.78},{"age":2936,"u":0.95},{"age":2943,"u":0.65},{"age":2949,"u":0.78},{"age":2954,"u":0.53},{"age":2958,"u":0.51},{"age":2965,"u":0.74},{"age":2971,"u":0.80},{"age":2977,"u":0.70},
{"age":2980,"u":0.70},{"age":2987,"u":0.91},{"age":2993,"u":0.95},{"age":2999,"u":0.84},{"age":3006,"u":0.78},{"age":3012,"u":0.84},{"age":3017,"u":1.37},{"age":3023,"u":1.08},{"age":3030,"u":0.82},{"age":3036,"u":0.78},{"age":3042,"u":0.70},{"age":3047,"u":0.91},{"age":3053,"u":1.50},{"age":3059,"u":1.29},{"age":3065,"u":1.33},{"age":3072,"u":0.78},{"age":3078,"u":1.03},{"age":3084,"u":0.91},{"age":3091,"u":0.78},{"age":3098,"u":0.70},{"age":3104,"u":0.68},{"age":3110,"u":0.55},{"age":3115,"u":0.55},{"age":3121,"u":0.70},{"age":3127,"u":0.78},{"age":3134,"u":0.65},{"age":3140,"u":0.70},{"age":3146,"u":0.61},{"age":3152,"u":0.59},{"age":3159,"u":0.54},{"age":3166,"u":0.70},{"age":3172,"u":0.78},{"age":3178,"u":0.91},{"age":3185,"u":1.03},{"age":3192,"u":0.95},{"age":3198,"u":0.78},{"age":3204,"u":0.78},{"age":3210,"u":0.91},{"age":3217,"u":1.03},{"age":3223,"u":0.78},{"age":3227,"u":0.68},{"age":3234,"u":1.03},{"age":3240,"u":1.08},{"age":3246,"u":0.95},{"age":3251,"u":1.03},{"age":3257,"u":1.29},{"age":3263,"u":1.24},{"age":3268,"u":0.91},{"age":3274,"u":0.86},{"age":3280,"u":1.08},{"age":3285,"u":1.37},{"age":3291,"u":1.03},{"age":3296,"u":1.12},{"age":3302,"u":1.46},{"age":3307,"u":1.29},{"age":3313,"u":0.95},{"age":3317,"u":1.20},{"age":3323,"u":1.03},{"age":3328,"u":1.33},{"age":3334,"u":1.41},{"age":3340,"u":1.22},{"age":3345,"u":0.91},{"age":3351,"u":1.03},{"age":3357,"u":1.29},{"age":3362,"u":1.54},{"age":3368,"u":1.79},{"age":3372,"u":2.03},{"age":3377,"u":1.62},{"age":3381,"u":1.84},{"age":3385,"u":1.75},{"age":3389,"u":1.88},{"age":3396,"u":1.58},{"age":3400,"u":1.46},{"age":3406,"u":1.29},{"age":3413,"u":1.33},{"age":3419,"u":1.77},{"age":3423,"u":1.58},{"age":3430,"u":1.33},{"age":3436,"u":1.03},{"age":3442,"u":0.89},{"age":3449,"u":0.91},{"age":3456,"u":0.95},{"age":3462,"u":1.12},{"age":3468,"u":1.46},{"age":3473,"u":1.12},{"age":3479,"u":0.86},{"age":3483,"u":1.20},{"age":3487,"u":1.50},{"age":3493,"u":1.03},{"age":3498,"u":0.86},{"age":3504,"u":1.29},{"age":3509,"u":1.37},{"age":3516,"u":1.29},{"age":3521,"u":1.60},{"age":3526,"u":1.46},{"age":3534,"u":1.33},{"age":3540,"u":0.86},{"age":3544,"u":0.61},{"age":3550,"u":0.53},{"age":3556,"u":0.61},{"age":3562,"u":0.95},{"age":3567,"u":1.29},{"age":3573,"u":1.03},{"age":3579,"u":1.12},{"age":3584,"u":0.70},{"age":3588,"u":0.65},{"age":3592,"u":1.03},{"age":3597,"u":0.78},{"age":3602,"u":0.74},{"age":3607,"u":0.82},{"age":3611,"u":0.78},{"age":3615,"u":0.78},{"age":3620,"u":1.03},{"age":3624,"u":0.86},{"age":3628,"u":1.58},{"age":3635,"u":1.75},{"age":3638,"u":0.91},{"age":3643,"u":0.95},{"age":3648,"u":0.82},{"age":3652,"u":0.65},{"age":3656,"u":0.95},{"age":3660,"u":1.71},{"age":3665,"u":1.62},{"age":3669,"u":2.09},{"age":3675,"u":1.75},{"age":3681,"u":1.92},{"age":3686,"u":1.79},{"age":3692,"u":2.05},{"age":3698,"u":2.26},{"age":3702,"u":2.09},{"age":3707,"u":2.43},{"age":3712,"u":2.83},{"age":3716,"u":2.43},{"age":3720,"u":2.13},{"age":3726,"u":1.08},{"age":3730,"u":1.79},{"age":3735,"u":1.92},{"age":3739,"u":1.29},{"age":3745,"u":0.70},{"age":3750,"u":1.67},{"age":3754,"u":1.84},{"age":3760,"u":1.75},{"age":3764,"u":1.37},{"age":3769,"u":1.88},{"age":3773,"u":1.62},{"age":3777,"u":1.37},{"age":3782,"u":1.79},{"age":3786,"u":1.24},{"age":3790,"u":1.67},{"age":3794,"u":0.95},{"age":3799,"u":0.91},{"age":3803,"u":1.84},{"age":3807,"u":1.75},{"age":3814,"u":1.03},{"age":3820,"u":1.29},{"age":3824,"u":1.58},{"age":3828,"u":0.86},{"age":3834,"u":1.62},{"age":3839,"u":1.46},{"age":3845,"u":1.88},{"age":3851,"u":0.91},{"age":3857,"u":0.95},{"age":3863,"u":1.71},{"age":3867,"u":1.54},{"age":3874,"u":1.71},{"age":3880,"u":1.60},{"age":3884,"u":1.29},{"age":3891,"u":1.67},{"age":3895,"u":1.84},{"age":3899,"u":1.37},{"age":3905,"u":1.58},{"age":3911,"u":1.92},{"age":3916,"u":1.46},{"age":3922,"u":1.65},{"age":3928,"u":1.71},{"age":3933,"u":1.62},{"age":3939,"u":1.46},{"age":3944,"u":1.71},{"age":3950,"u":1.79},{"age":3956,"u":0.95},{"age":3962,"u":1.12},{"age":3967,"u":1.46},{"age":3973,"u":1.37},{"age":3978,"u":1.12},{"age":3982,"u":1.67},{"age":3986,"u":1.41},{"age":3990,"u":0.95},{"age":3995,"u":0.91},{"age":4000,"u":0.99}
]
}
}
